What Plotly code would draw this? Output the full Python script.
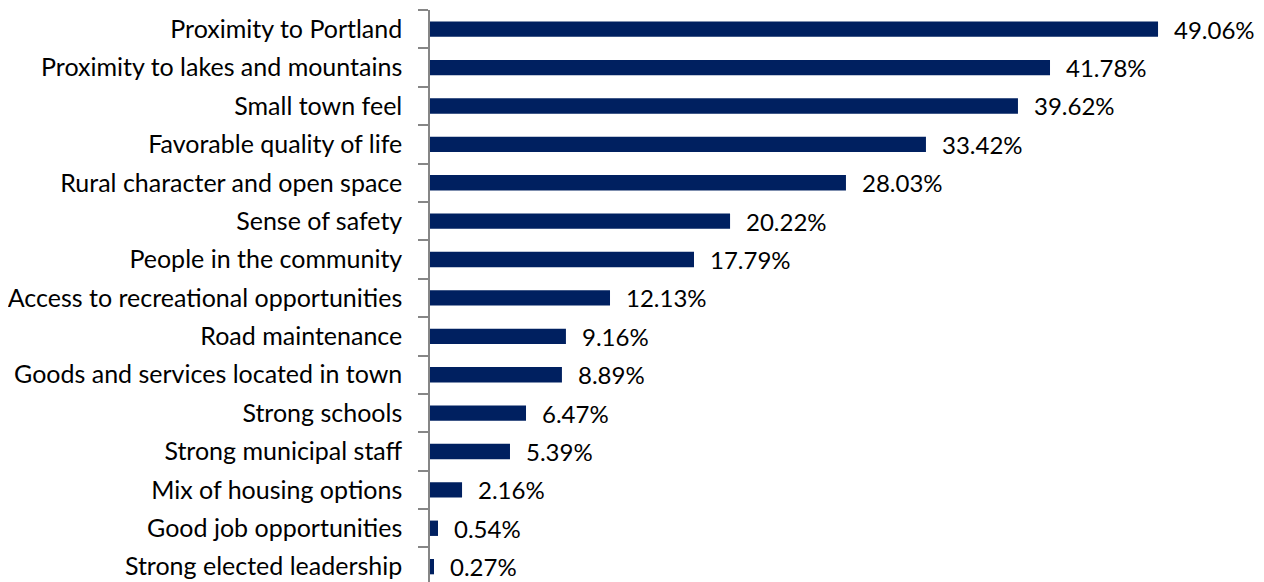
import plotly.graph_objects as go

categories = [
    "Proximity to Portland",
    "Proximity to lakes and mountains",
    "Small town feel",
    "Favorable quality of life",
    "Rural character and open space",
    "Sense of safety",
    "People in the community",
    "Access to recreational opportunities",
    "Road maintenance",
    "Goods and services located in town",
    "Strong schools",
    "Strong municipal staff",
    "Mix of housing options",
    "Good job opportunities",
    "Strong elected leadership",
]
values = [49.06, 41.78, 39.62, 33.42, 28.03, 20.22, 17.79, 12.13, 9.16, 8.89, 6.47, 5.39, 2.16, 0.54, 0.27]
value_labels = [f"{v:.2f}%" for v in values]

FONT = "Lato"
fig = go.Figure()
fig.add_trace(go.Bar(
    y=categories, x=values, orientation="h",
    marker=dict(color="#002060", line=dict(width=0)),
    width=0.4,
))
for c, v, t in zip(categories, values, value_labels):
    fig.add_annotation(x=v, y=c, text=t, showarrow=False, xanchor="left",
                       xshift=14, font=dict(family=FONT, size=24, color="#000000"))

fig.update_layout(
    width=1256, height=574,
    margin=dict(l=417, r=0, t=2, b=0),
    paper_bgcolor="white", plot_bgcolor="white",
    showlegend=False,
    xaxis=dict(range=[0, 56.2], visible=False, showgrid=False, zeroline=False),
    yaxis=dict(
        type="category", categoryorder="array", categoryarray=categories,
        range=[14.4, -0.5],
        showline=True, linecolor="#868686", linewidth=1.5,
        ticks="outside", ticklen=10, tickcolor="#868686", tickwidth=1.5,
        tickson="boundaries",
        tickfont=dict(family=FONT, size=25, color="#000000"),
        ticklabelstandoff=21,
        showgrid=False, zeroline=False,
    ),
)
fig.write_html("out.html")
